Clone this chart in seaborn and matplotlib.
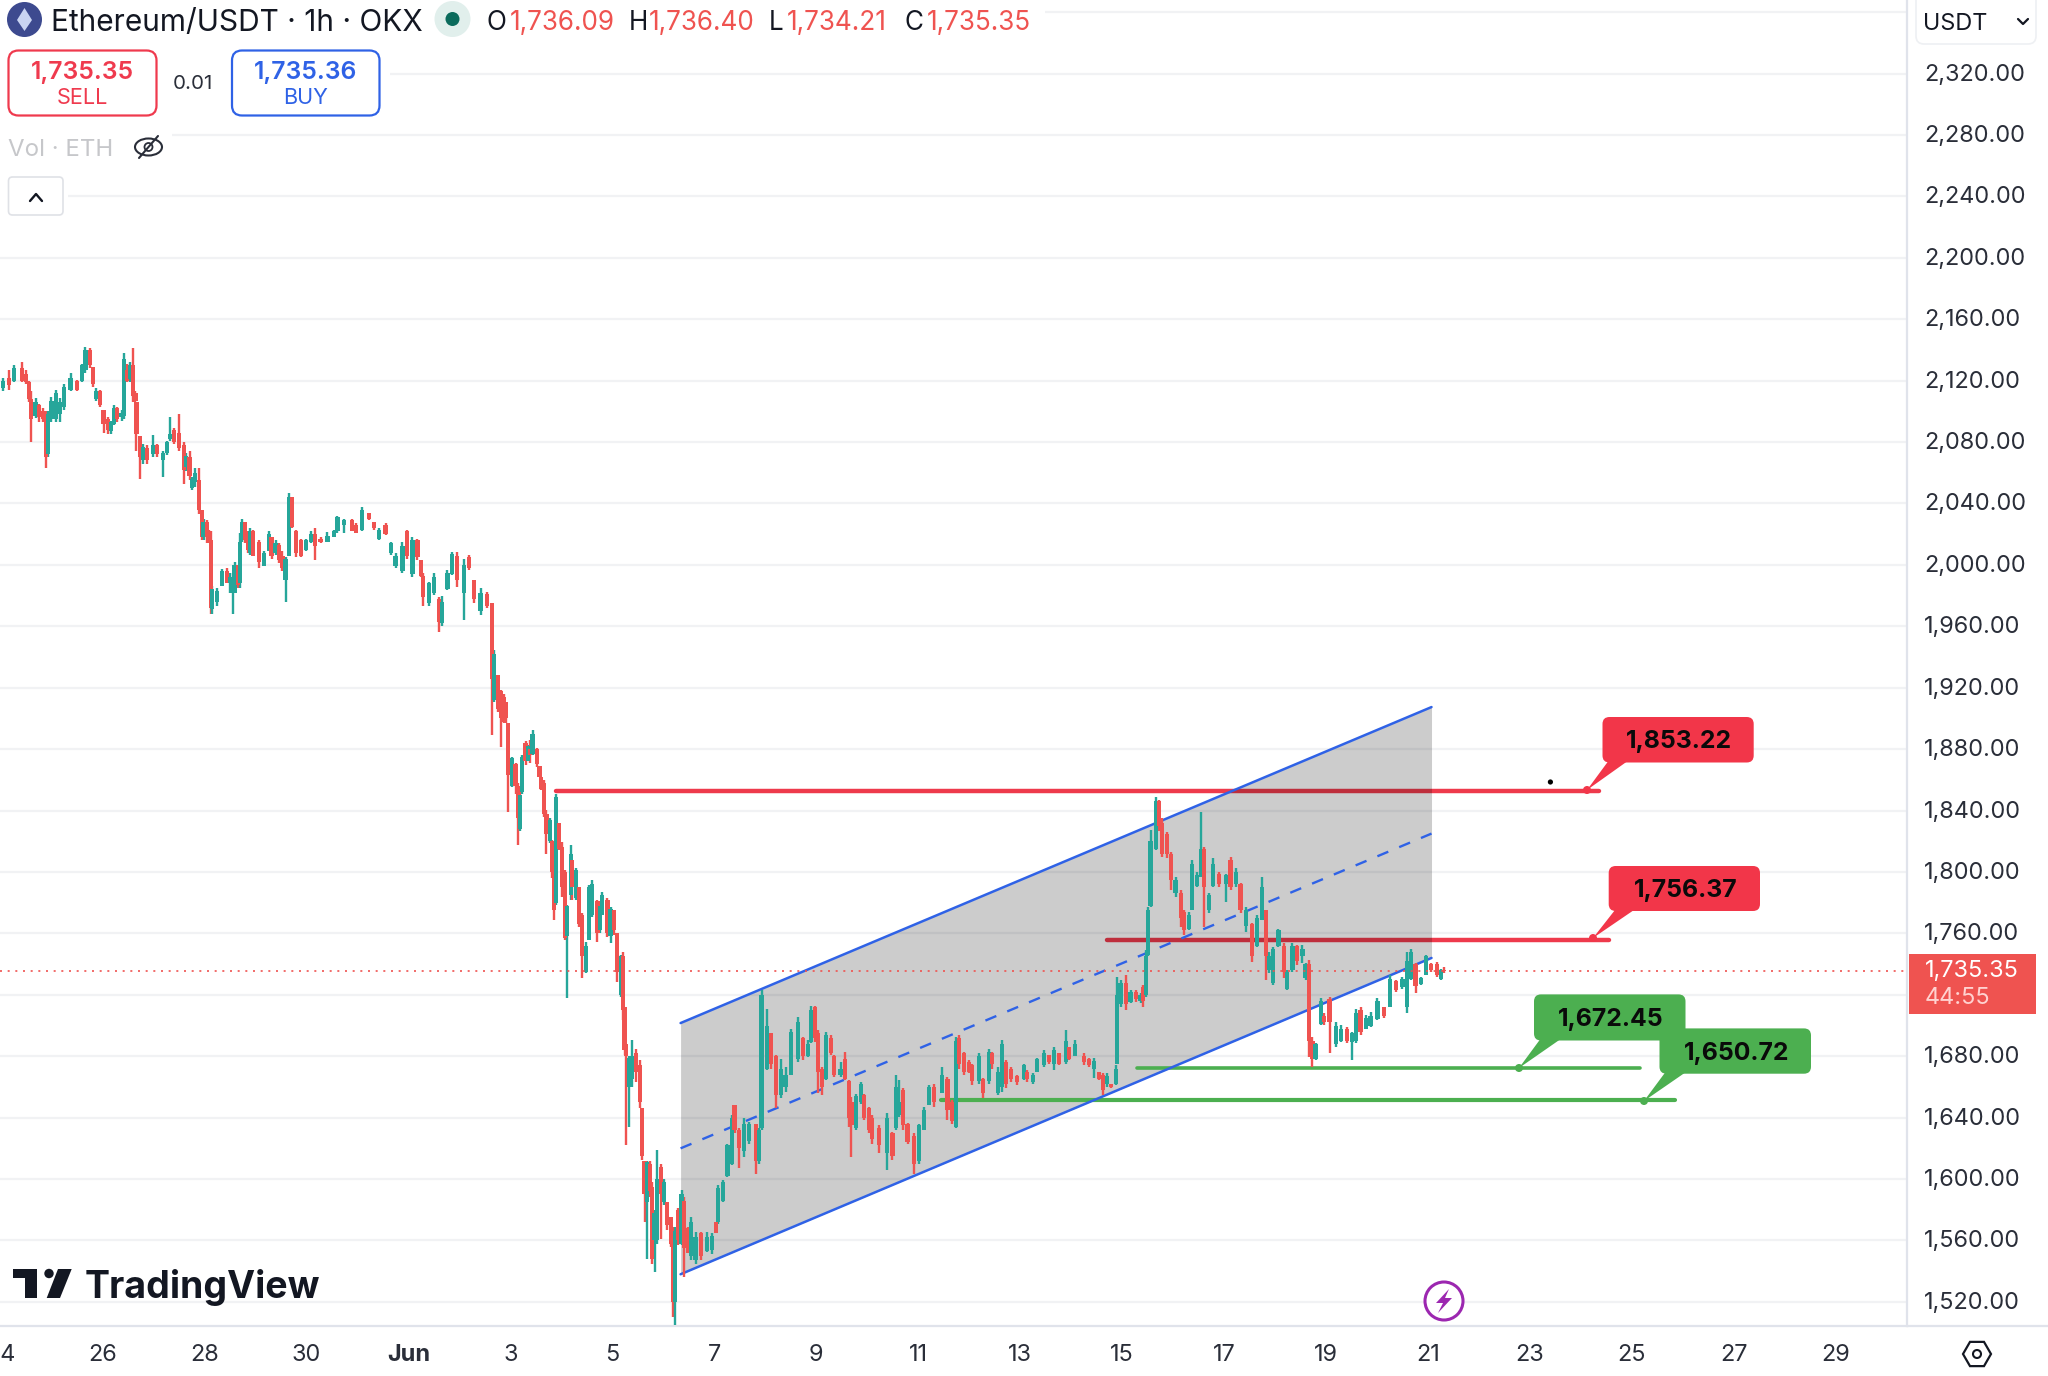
import matplotlib
matplotlib.use("Agg")
import math
import matplotlib.pyplot as plt
from matplotlib.patches import FancyBboxPatch, Polygon, Circle, Ellipse, RegularPolygon, Rectangle
from matplotlib.transforms import ScaledTranslation
import pandas as pd
import seaborn as sns

# candles: (hours since 24 May 00:00, open, high, low, close)
may24_26 = [(1,2115,2121.5,2113,2120),(4,2122,2127,2114,2117),(6.5,2120,2130,2119,2128),(10,2128,2132,2119,2120),
 (12,2124,2127,2118,2119),(13.5,2119,2120,2106,2108),(14.5,2108,2113,2080,2095),(16.5,2097,2109,2095.5,2106),
 (18,2104,2105,2093,2096),(20,2100,2102,2093,2095),(21.5,2096,2100,2063,2070),(22.5,2072,2100,2070.5,2098),
 (24,2095,2109.5,2093,2107),(26,2095,2114,2093,2112),(28,2098,2108.5,2093,2106),(30,2103,2118,2101,2116),
 (33,2114,2125,2113,2122),(36,2120,2120.5,2113,2114),(38.5,2120,2131,2119,2130),(40,2127,2142,2125,2140),
 (42,2140,2141,2128,2130),(43.5,2129,2129,2116,2118),(45,2108,2115,2107,2113),(47,2113,2114,2103,2104)]
may26_28 = [(48.5,2101,2101,2086,2092),(50.5,2095,2096.5,2085,2088),(52,2087,2094,2085,2093),(53.5,2092,2104,2091,2102),
 (55,2102,2103,2093,2095),(57,2096,2101,2094,2099),(58,2097,2138,2095,2134),(59.5,2127,2131,2119,2120),
 (61,2121,2132,2119,2130),(62.3,2130,2141,2106,2110),(63.5,2112,2113,2106,2107),(64,2106,2106,2074,2085),
 (65.5,2084,2084,2056,2070),(67,2068,2079,2066,2077),(69,2076,2078,2066,2068),(72,2072,2084.5,2070.5,2078),
 (73.5,2078,2079,2070,2072),(76.5,2068,2074,2057,2073),(78.5,2073,2081,2071.5,2080),(80,2082,2096.5,2081,2085),
 (81.7,2088,2089,2079,2080),(84,2086,2098,2074,2076),(86.5,2078,2080,2053,2062),(87.5,2064,2073,2061,2071),
 (89,2070,2074,2055,2058),(90,2050,2057,2049,2056),(91.5,2054,2063,2051,2060),(93.5,2055,2063,2033,2036),
 (95,2036,2036,2016,2018),(95.6,2018,2030,2016,2028)]
may28_30 = [(97.3,2028,2029,2014,2018),(98.1,2022,2023,2014,2016),(99,2016,2022,1968,1972),(99.7,1971,1986,1968,1984),
 (102,1976,1985,1973,1983),(104.4,1986,1997,1986,1996),(106.8,1996,1998,1988,1988),(108,1988,1994.5,1981.5,1992),
 (109.4,1982,1994.5,1968,1990),(110.2,1982,2002,1981.5,2000),(111.8,2000,2000,1985,1987),(112.7,1988,2021,1985,2015),
 (113.8,2016,2030,2015,2028),(115,2028,2028,2014,2016),(116.5,2016,2022,2008,2010),(117.4,2008,2024,2006.5,2022),
 (118.9,2022,2023,2005.5,2006),(121.7,2015,2016,1998,2002),(124,1999,2009,1999,2008),(126.4,2009,2022,2009,2020),
 (127.6,2018,2018,2004,2006),(129.5,2008,2016,2006.5,2014),(131,2013,2014,2001,2003),(132.7,2006,2009,1996,1998),
 (134.2,1990,2005.4,1976,2004),(135.8,2006,2046.6,2006,2044),(137.4,2044,2044.4,2024,2025),(139,2022,2023,2005,2008),
 (141.3,2016,2017,2005.4,2006),(143.7,2010,2017,2009,2016)]
may30_jun1 = [(146,2015,2022,2014,2020),(147.9,2020,2024,2003,2012),(150.7,2017,2018.4,2014,2015),(153.9,2015,2021.6,2015,2019),
 (157,2018,2022.7,2018,2022),(158.6,2022,2032,2021,2031),(161.7,2026,2030,2020.6,2029),(165.6,2029,2030,2022,2022),
 (167.5,2026,2027,2020.6,2021),(170.3,2023,2038,2022,2036),(173.5,2034,2034,2029,2030),(175.8,2028,2028,2023,2024),
 (178.2,2017,2024,2016,2023),(181.3,2026,2027,2019.5,2020),(183.7,2008,2015,2006.5,2014),(186,1999,2007.5,1998,2006),
 (189.2,1996,2015,1994.5,2012),(191.5,2022,2023,2004,2006)]
jun1_3 = [(193.9,1994,2018,1992,2016),(196.3,2016,2017,2003,2005),(197.8,2003,2003,1992,1993),(199,1993,1994.5,1973,1979),
 (201.7,1975,1989,1973,1988),(204,1982,1994.5,1980.4,1992),(206.5,1978,1979,1956.5,1963),(208,1962,1980,1960,1976),
 (210.4,1984,1996.7,1983.6,1995),(212.7,1994,2008.6,1993.4,2007),(215,2006,2008.6,1985.8,1990),(218.2,1982,2004,1964,2000),
 (220.6,2005,2006.5,1996.7,1998),(223,1990,1990,1975,1978),(226,1970,1984.7,1967.4,1982),(229.2,1981,1982.6,1971.7,1973),
 (231.5,1975,1975,1889,1926),(232.3,1912,1944.6,1911,1942),(234.2,1928,1928,1904.4,1906),(235.7,1918,1918.5,1881.6,1900),
 (237,1914,1916,1897,1898),(238,1911,1911,1897,1900),(238.9,1897,1897,1839,1863)]
jun3_5 = [(240.9,1856,1875,1855.6,1874),(242.5,1870,1870.8,1851,1856),(243.8,1856,1857.7,1817.6,1835),(244.4,1828,1851,1827,1850),
 (245.6,1852,1876,1851,1875),(247.2,1884,1885,1869.7,1872),(248.3,1872,1882.7,1872,1882),(249.2,1880,1886,1870.8,1876),
 (250.5,1877,1892.5,1876,1890),(252.7,1880,1880.5,1868.6,1870),(253.8,1869,1869,1862,1862),(254.6,1862,1862,1853.4,1854),
 (255.8,1858,1859.9,1836,1838),(257,1838,1840.4,1812,1825),(258.7,1820,1835,1818.7,1834),(259.8,1820,1820.8,1796,1800),
 (260.5,1810,1813,1768.7,1775),(261.6,1780,1851,1778.5,1849),(262.9,1832,1832,1814.3,1815),(264.5,1816,1819.8,1784,1790),
 (265.7,1800,1801.3,1755.7,1757),(266.8,1758,1778.5,1717.7,1778),(268.4,1785,1817.6,1781.8,1812),(269,1808,1808,1781.8,1790),
 (270.8,1783,1802.4,1781.8,1801),(272.3,1790,1790.4,1764,1766),(273.9,1772,1773,1730.7,1745),(275.5,1735,1754.6,1734,1752),
 (277,1756,1791.5,1755.7,1790),(278.6,1772,1794.8,1771,1792),(281,1781,1781.8,1754.6,1760),(282.2,1762,1779.6,1760,1778),
 (283,1772,1787,1772,1785),(285.7,1782,1782.8,1757.9,1760),(287.2,1758,1777.4,1753.5,1776)]
jun5_7 = [(288.8,1775,1775,1759,1762),(290.4,1760,1760,1728.6,1735),(292.3,1720,1746,1718.8,1745),(293.2,1745,1748,1703.6,1710),
 (293.8,1712,1712,1681,1684),(294.6,1688,1688,1622,1680),(295.8,1660,1680,1634,1679),(297.4,1665,1690.5,1660,1680),
 (299,1682,1685,1663,1670),(301,1674,1677.5,1646,1650),(302.1,1646,1646,1612.3,1615),(303.2,1612,1612,1572,1590),
 (304.2,1585,1612,1548,1611),(305.7,1610,1612,1588.5,1592),(306.8,1595,1598,1545,1548),(307.9,1560,1580,1539.6,1578),
 (309.2,1560,1618.8,1558,1600),(311.1,1608,1610,1561,1590),(312.3,1585,1600,1583,1598),(313.9,1585,1585,1566.7,1570),
 (315.8,1575,1575.4,1556,1558),(316.7,1562,1569,1510,1520),(317.4,1520,1569,1505,1566),(318.9,1580,1581,1557,1560),
 (320.6,1558,1592.8,1557,1590),(321.7,1586,1588.5,1536,1555),(323.6,1568,1569,1551.6,1552),(324.9,1550,1575.4,1547,1572),
 (327.2,1547,1565.7,1545,1562),(329.6,1565,1565.7,1547,1550),(332.7,1553,1565.7,1552.6,1562),(335.1,1554,1564.6,1551.5,1563)]
jun7_9 = [(336.7,1572,1572,1564.6,1565),(337.8,1572,1596,1571,1594),(340.3,1586,1599.3,1585,1598),(342.2,1602,1623,1601.5,1622),
 (344.5,1610,1641.6,1609,1640),(345.6,1648,1648,1630,1632),(347.7,1632,1633,1607,1620),(350,1618,1639.5,1614.5,1636),
 (352.4,1625,1637.3,1623,1636),(355.5,1636,1636,1603.6,1612),(357,1612,1633,1610,1632),(358.3,1633,1723,1632,1720),
 (360.7,1672,1711,1671,1700),(362.6,1695,1695,1672,1675),(365,1680,1680.7,1646,1655),(367.3,1655,1678.5,1652.5,1672),
 (369.6,1660,1673,1657,1668),(372.3,1668,1698,1667.7,1696),(375.4,1678,1705.7,1676.4,1702),(377.8,1692,1692.7,1677.5,1680),
 (380.1,1680,1690.5,1679.6,1688),(381.7,1689,1713,1688.3,1710),(383.3,1712,1713,1689,1692)]
jun9_11 = [(384.9,1695,1697,1656,1670),(386.9,1672,1673,1654.7,1660),(388.5,1665,1696,1664.4,1694),(390.8,1692,1693.8,1680.7,1682),
 (392.4,1680,1680.7,1666.6,1668),(395.5,1668,1676.4,1666.6,1672),(397.6,1678,1683,1664.4,1665),(399.5,1664,1664.4,1634,1640),
 (400.6,1650,1653.6,1614.5,1635),(402.6,1633,1655.7,1632,1654),(405,1650,1663,1649,1662),(406.5,1655,1655.7,1638.4,1640),
 (408.9,1646,1647,1629.7,1632),(410.4,1640,1641.6,1623,1626),(413.6,1633,1635,1616.7,1622),(417.5,1617,1642.7,1605.8,1640),
 (419.9,1630,1630.8,1612.3,1615),(421.4,1633,1667.7,1632,1660),(423,1642,1664.4,1640.6,1650),(425,1658,1659,1632,1635),
 (427,1636,1636.2,1623,1624),(430.1,1628,1629.7,1603.6,1610)]
jun11_13 = [(432.4,1612,1636,1610,1635),(434.8,1632,1647,1631.9,1645),(437.1,1648,1661,1648,1660),(439.5,1660,1662,1647,1650),
 (443.4,1656,1673,1655.8,1668),(445.8,1665,1666.6,1638.4,1645),(448.1,1650,1651.4,1636,1638),(449.7,1634,1692.7,1633,1690),
 (451.2,1692,1693.8,1672,1675),(453.6,1682,1683,1667.7,1670),(456,1676,1677.5,1668.8,1670),(457.5,1674,1675,1661,1664),
 (460.7,1664,1682,1662,1680),(462.7,1665,1665.6,1652.5,1656),(465.4,1664,1685,1662,1683),(466.9,1682,1683,1672,1675),
 (469.6,1656,1673,1654.7,1670),(471.6,1660,1690.5,1657,1688),(473.2,1676,1677.5,1659,1662),(475.6,1672,1673,1663,1665),
 (478.7,1667,1667.7,1661,1663)]
jun13_15 = [(481.8,1665,1675,1664.5,1674),(483.4,1670,1671,1663,1665),(486.2,1663,1668.8,1662,1668),(488.1,1670,1679,1670,1678),
 (491.3,1674,1684,1673,1682),(493.6,1681,1681,1675,1676),(496,1675,1686,1671,1684),(498.3,1682,1682,1674,1675),
 (501.5,1676,1697,1675,1690),(503,1686,1686,1677.5,1678),(505.7,1680,1690.5,1680,1688),(510,1680,1682,1674,1676),
 (512.5,1678,1678.6,1673,1674),(514.8,1672,1678.6,1665.6,1677),(517.2,1670,1670,1664.5,1665),(519,1668,1668.8,1654.7,1658),
 (521,1662,1668.8,1660,1667),(522.7,1662,1662,1659,1660),(525,1662,1674,1661,1672)]
jun15_17 = [(525.7,1675,1731.8,1675,1720),(527.3,1714,1729.6,1712,1728),(529.7,1728,1733,1710,1714),(532,1715,1723,1714.4,1722),
 (534.4,1722,1723,1715.5,1717),(536.7,1716,1721,1714.4,1720),(537.8,1725,1726.4,1712,1716),(539.1,1720,1749,1718.8,1745),
 (540.2,1746,1777.4,1745,1775),(541.4,1778,1827.3,1777.4,1820),(543.8,1815,1849,1814.3,1846),(545.4,1846,1847,1827,1830),
 (546.9,1832,1835,1810,1812),(549.3,1825,1826,1809,1812),(550.9,1812,1813,1788,1795),(553.2,1786,1797,1784,1795),
 (555.6,1786,1788,1764.4,1770),(557.1,1774,1775,1759,1762),(559.5,1763,1774,1762,1772),(561.1,1775,1807.8,1775,1805),
 (563.4,1791,1800,1790.4,1798),(565,1797,1839,1797,1815),(566.6,1815,1816.5,1764.4,1790),(568.9,1775,1786,1773,1785),
 (570.9,1791,1809,1790.4,1805)]
jun17_19 = [(573.6,1799,1800,1790.4,1792),(576.8,1792,1799,1780.7,1798),(579.1,1808,1810,1788,1790),(581.5,1792,1802.4,1790,1800),
 (583.8,1792,1792.6,1773,1775),(586.2,1765,1777.4,1761,1775),(589.3,1766,1766.5,1741.6,1745),(591.7,1752,1772,1751.3,1770),
 (594,1769,1797,1768.7,1790),(595.6,1775,1775,1729.6,1745),(597.2,1736,1748,1734,1745),(599,1728,1751,1726.4,1750),
 (601.6,1752,1763,1751.3,1762),(604.2,1752,1753.5,1730.7,1735),(605.8,1724,1736,1723,1735),(608.2,1736,1753.5,1735,1752),
 (610.5,1752,1752.4,1739.4,1742),(612.9,1745,1752.4,1740.5,1750),(614.4,1731,1740.5,1729.6,1740),(616,1740,1742.7,1679.7,1690)]
jun19_21 = [(617.6,1690,1692.7,1673.2,1678),(619.1,1678,1688.4,1677.5,1688),(621.5,1701,1717.7,1700.3,1716),(623.1,1706,1708,1700.3,1702),
 (625.7,1717,1718.8,1682,1702),(628.6,1688,1702.5,1686,1700),(630.9,1690,1700.3,1689.5,1698),(634,1698,1699,1688.4,1690),
 (636.4,1689,1696,1677.5,1695),(638,1690,1711,1688.4,1708),(640.3,1710,1712,1693.8,1696),(642.7,1698,1706.8,1698,1705),
 (645,1700,1709,1699,1706),(648.2,1704,1717.7,1703.6,1716),(651.3,1712,1712,1704.7,1706),(654.2,1712,1733,1712,1730),
 (656.8,1729,1729.6,1722,1723),(660,1725,1731.8,1724,1730),(662.3,1712,1748,1708,1742),(663.9,1730,1750,1729.6,1748),
 (666.2,1740,1740.5,1721,1726),(668.6,1727,1731.8,1726.4,1731),(671,1733,1746,1733,1745),(673.3,1740,1740.5,1735,1736),
 (676.4,1740,1741.6,1731.8,1733),(678,1730,1737,1729.6,1736),(679.6,1736.09,1738,1734.21,1735.35)]

candle_segments = [may24_26, may26_28, may28_30, may30_jun1, jun1_3, jun3_5, jun5_7, jun7_9,
                   jun9_11, jun11_13, jun13_15, jun15_17, jun17_19, jun19_21]

# drawing tools (x in day-of-axis numbers, 1 Jun = 32)
channel_x = [37.34, 52.07]
channel_upper = [1701.6, 1907.4]
channel_mid = [1620.0, 1825.0]
channel_lower = [1538.0, 1744.0]
res1_x = [34.9, 55.35]; res1_price = 1853.0
res2_x = [45.7, 55.55]; res2_price = 1755.6
sup1_x = [46.3, 56.15]; sup1_price = 1672.45
sup2_x = [42.45, 56.85]; sup2_price = 1651.3
last_price = 1735.35
price_ticks = list(range(1520, 2361, 40))
day_ticks = list(range(24, 61, 2))
day_labels = ["24", "26", "28", "30", "Jun", "3", "5", "7", "9", "11", "13", "15", "17", "19", "21", "23", "25", "27", "29"]

GREEN, RED = "#26a69a", "#ef5350"
LINE_RED, LINE_GREEN, BLUE = "#ee3a4c", "#4caf50", "#2f62e6"
FONT = "Inter"
AXIS_SIZE = 16.9
W, H = 2048, 1376

sns.set_theme(style="white")
plt.rcParams["font.family"] = [FONT, "DejaVu Sans"]
fig = plt.figure(figsize=(W / 100, H / 100), dpi=100, facecolor="white")
ax = fig.add_axes([0, (H - 1326) / H, 1907 / W, 1326 / H])
ax.set_xlim(23.99, 61.397)
ax.set_ylim(1504.3, 2367.9)

df = pd.DataFrame([c for s in candle_segments for c in s], columns=["hour", "open", "high", "low", "close"])
df["day"] = 24 + df["hour"] / 24
df["high"] = df[["open", "high", "close"]].max(axis=1)
df["low"] = df[["open", "low", "close"]].min(axis=1)
df["color"] = [GREEN if c >= o else RED for o, c in zip(df["open"], df["close"])]

# horizontal grid
ax.hlines(price_ticks, 23.99, 61.397, color="#f1f2f4", lw=1.6, zorder=1)

def level(xs, price, color, lw, z):
    d = pd.DataFrame({"x": xs, "y": [price, price]})
    sns.lineplot(data=d, x="x", y="y", ax=ax, color=color, lw=lw, zorder=z, legend=False, errorbar=None)

level(res1_x, res1_price, LINE_RED, 3.2, 2)
level(res2_x, res2_price, LINE_RED, 3.2, 2)

ax.fill_between(channel_x, channel_lower, channel_upper, color="black", alpha=0.2, lw=0, zorder=3)

level(sup1_x, sup1_price, LINE_GREEN, 2.6, 4)
level(sup2_x, sup2_price, LINE_GREEN, 3.0, 4)

for ys, ls, lw in ((channel_upper, "-", 1.8), (channel_lower, "-", 1.8), (channel_mid, (0, (5, 5)), 1.7)):
    d = pd.DataFrame({"x": channel_x, "y": ys})
    sns.lineplot(data=d, x="x", y="y", ax=ax, color=BLUE, lw=lw, linestyle=ls, zorder=5, legend=False, errorbar=None)

ax.vlines(df["day"], df["low"], df["high"], colors=df["color"], lw=1.7, zorder=6)
ax.bar(df["day"], (df["close"] - df["open"]).abs(), bottom=df[["open", "close"]].min(axis=1),
       width=2.0 / 24, color=df["color"], lw=0, zorder=6)

ax.axhline(last_price, color=RED, lw=1.2, linestyle=(0, (1.2, 3.4)), zorder=7)

ax.set_xlabel(""); ax.set_ylabel("")
ax.set_xlim(23.99, 61.397)
ax.set_ylim(1504.3, 2367.9)
ax.yaxis.tick_right()
ax.set_yticks(price_ticks[:-1])
ax.set_yticklabels([f"{p:,.2f}" for p in price_ticks[:-1]], fontsize=AXIS_SIZE, color="#2a2e39", family=FONT)
ax.tick_params(axis="y", length=0, pad=12.5)
ax.set_xticks(day_ticks)
ax.set_xticklabels(day_labels, fontsize=AXIS_SIZE, color="#2a2e39", family=FONT)
ax.tick_params(axis="x", length=0, pad=13)
for lbl in ax.get_xticklabels():
    if lbl.get_text() == "Jun":
        lbl.set_fontweight("bold")
for lbl in ax.get_yticklabels():
    lbl.set_transform(lbl.get_transform() + ScaledTranslation(0, 0.015, fig.dpi_scale_trans))
for name, sp in ax.spines.items():
    sp.set_visible(name in ("right", "bottom"))
    sp.set_color("#e0e3eb"); sp.set_linewidth(1.6)

# overlay in pixel coordinates for the terminal chrome
ov = fig.add_axes([0, 0, 1, 1], zorder=10)
ov.set_xlim(0, W); ov.set_ylim(H, 0); ov.axis("off"); ov.patch.set_alpha(0)

def box(x0, y0, x1, y1, fc, ec="none", lw=0, r=8, z=2):
    ov.add_patch(FancyBboxPatch((x0 + r, y0 + r), x1 - x0 - 2 * r, y1 - y0 - 2 * r,
                                boxstyle=f"round,pad={r},rounding_size={r}", fc=fc, ec=ec, lw=lw, zorder=z))

def txt(x, y, s, size, color="#131722", ha="left", weight="normal", z=5, **kw):
    ov.text(x, y, s, fontsize=size, color=color, ha=ha, va="center", fontweight=weight, family=FONT, zorder=z, **kw)

# white masks behind the legend
for rect in ((0, 0, 1045, 48), (0, 48, 390, 120), (0, 120, 172, 166), (0, 166, 68, 222)):
    ov.add_patch(Rectangle((rect[0], rect[1]), rect[2] - rect[0], rect[3] - rect[1], fc="white", ec="none", zorder=1))

# header
ov.add_patch(Circle((24.5, 19.5), 17.5, fc="#3d4a8f", ec="none", zorder=2))
ov.add_patch(Polygon([(24.5, 8), (32, 20), (24.5, 31), (17, 20)], fc="#c9d4f2", ec="none", zorder=3))
txt(51, 23, "Ethereum/USDT · 1h · OKX", 21.5)
ov.add_patch(Ellipse((452.5, 19), 36, 36, fc="#e1efec", ec="none", zorder=2))
ov.add_patch(Circle((452.5, 19), 7, fc="#0b6b5c", ec="none", zorder=3))
for x_l, lab, x_v, val in ((487, "O", 510, "1,736.09"), (629, "H", 649, "1,736.40"),
                           (769, "L", 787, "1,734.21"), (905, "C", 927, "1,735.35")):
    txt(x_l, 23, lab, 18.8)
    txt(x_v, 23, val, 18.8, color=RED)

# sell / buy
box(8.5, 50.5, 156.5, 115.5, "white", "#ef3a4e", 1.6, r=10)
box(232, 50.5, 379.5, 115.5, "white", "#2f62e6", 1.6, r=10)
txt(82.5, 72, "1,735.35", 17.8, color="#ef3a4e", ha="center", weight="semibold")
txt(82.5, 98, "SELL", 15.6, color="#ef3a4e", ha="center")
txt(193, 84, "0.01", 14.8, color="#2a2e39", ha="center")
txt(306, 72, "1,735.36", 17.8, color="#2f62e6", ha="center", weight="semibold")
txt(306, 98, "BUY", 15.6, color="#2f62e6", ha="center")

# volume legend
txt(8, 150, "Vol · ETH", 17.3, color="#c6c7ca")
ov.add_patch(Ellipse((148.5, 147), 27, 17, fc="none", ec="#2a2e39", lw=1.5, zorder=3))
ov.add_patch(Circle((148.5, 147), 4, fc="none", ec="#2a2e39", lw=1.3, zorder=3))
ov.plot([139, 158], [158, 136], color="#2a2e39", lw=1.5, zorder=4)

# collapse button
box(8.5, 177, 63, 215, "white", "#dfe1e6", 1.2, r=4)
ov.plot([30, 36, 42], [201, 194, 201], color="#131722", lw=1.7, zorder=4)

# currency selector
box(1916, -12, 2036, 44, "white", "#eef0f3", 1.2, r=8)
txt(1923, 24, "USDT", AXIS_SIZE, color="#131722")
ov.plot([2018, 2023, 2028], [19, 24, 19], color="#131722", lw=1.6, zorder=4)

# last price tag
ov.add_patch(Rectangle((1909, 954), 127, 60, fc=RED, ec="none", zorder=2))
txt(1925, 971, "1,735.35", AXIS_SIZE, color="white")
txt(1925, 998, "44:55", AXIS_SIZE, color="#ffd2d0")

# bottom chrome
ov.plot([1907, 2048], [1326, 1326], color="#e0e3eb", lw=1.6, zorder=1)
ov.add_patch(RegularPolygon((1977, 1354), 6, radius=14, orientation=math.pi / 6, fc="none", ec="#131722", lw=1.6, zorder=3))
ov.add_patch(Circle((1977, 1354), 4, fc="none", ec="#131722", lw=1.5, zorder=3))

# lightning badge
ov.add_patch(Circle((1444, 1301), 19, fc="white", ec="#9c27b0", lw=2.2, zorder=3))
ov.add_patch(Polygon([(1449, 1289), (1436, 1303), (1443, 1303), (1438, 1313), (1452, 1298), (1445, 1298)],
                     fc="#9c27b0", ec="none", zorder=4))

# TradingView mark
ov.add_patch(Polygon([(13.3, 1269), (36.7, 1269), (36.7, 1298), (25, 1298), (25, 1278), (13.3, 1278)], fc="#131722", ec="none", zorder=4))
ov.add_patch(Circle((49, 1273.5), 4.7, fc="#131722", ec="none", zorder=4))
ov.add_patch(Polygon([(58, 1269), (71.7, 1269), (60, 1298), (46.7, 1298)], fc="#131722", ec="none", zorder=4))
txt(85, 1288, "TradingView", 27, weight="bold")

# callouts
def callout(x0, y0, x1, y1, tip, base, label, color, dot_color):
    box(x0, y0, x1, y1, color, r=7, z=3)
    ov.add_patch(Polygon([tip, (base[0], y1 - 1), (base[1], y1 - 1)], fc=color, ec="none", zorder=3))
    ov.add_patch(Circle(tip, 4, fc=dot_color, ec="none", zorder=4))
    txt((x0 + x1) / 2 + 1, (y0 + y1) / 2 + 2, label, 17.8, color="#0a0a0a", ha="center", weight="bold")

callout(1602.5, 717, 1753.7, 762.5, (1587, 790), (1608, 1627), "1,853.22", "#f23649", "#f23649")
callout(1608.7, 866, 1760, 911, (1593, 938), (1615, 1634), "1,756.37", "#f23649", "#f23649")
callout(1534, 994.4, 1685.5, 1040.5, (1519, 1068), (1540, 1560), "1,672.45", "#4caf50", "#4caf50")
callout(1659.5, 1028.4, 1811, 1073.7, (1644, 1101), (1665, 1685), "1,650.72", "#4caf50", "#4caf50")
ov.add_patch(Circle((1550.4, 782), 2.6, fc="black", ec="none", zorder=4))

fig.savefig("out.png", dpi=100)
